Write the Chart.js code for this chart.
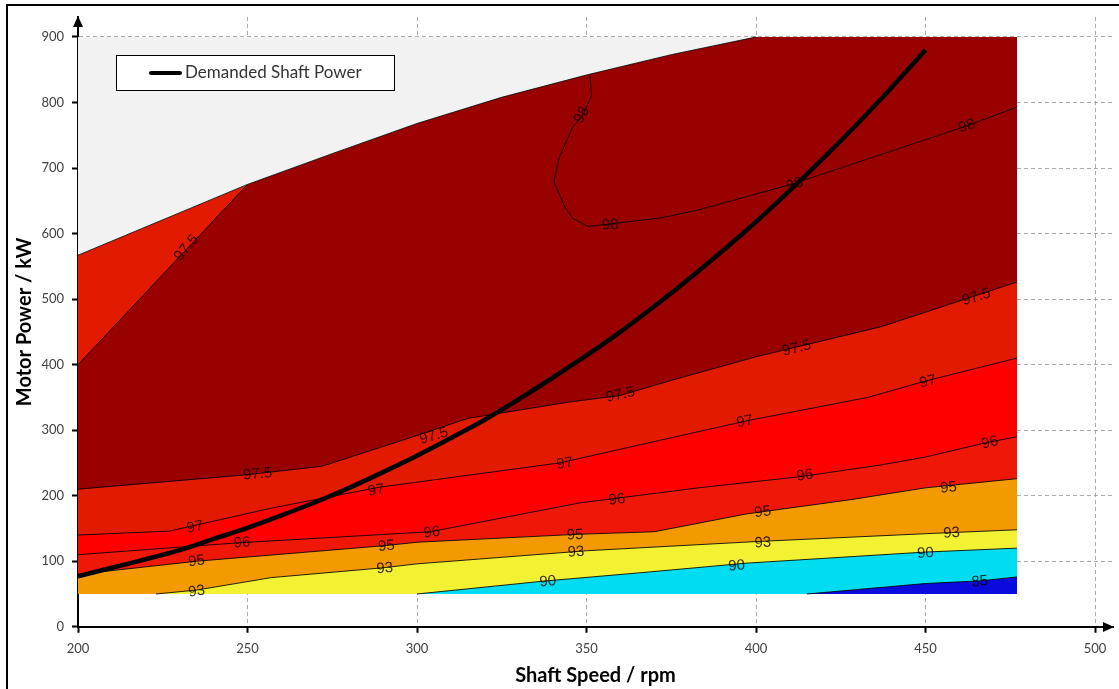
<!DOCTYPE html>
<html><head><meta charset="utf-8">
<script src="https://cdn.jsdelivr.net/npm/chart.js@4.4.1/dist/chart.umd.min.js"></script>
<style>html,body{margin:0;padding:0;background:#fff;}canvas{display:block;}</style>
</head><body>
<canvas id="c" width="1119" height="689"></canvas>
<script>
// ---- tick labels ----
const xTicks = [200, 250, 300, 350, 400, 450, 500];
const yTicks = [0, 100, 200, 300, 400, 500, 600, 700, 800, 900];

// ---- contour data: [shaft speed rpm, motor power kW] ----
const envelope   = [[200,567],[250,675],[275,722],[300,768],[325,808],[350,842],[375,873],[400,900],[477,900]];
const envelopeEdge = [[200,567],[250,675],[275,722],[300,768],[325,808],[350,842],[375,873],[400,900]];
const upper975Line = [[200,400],[250,675]];
const upper975   = [[200,400],[250,675],[275,722],[300,768],[325,808],[350,842],[375,873],[400,900],[477,900]];
const lower975   = [[200,210],[250,232],[272,245],[290,275],[300,292],[315,318],[345,343],[360,353],[375,376],[400,412],[437,458],[450,480],[477,526]];
const line97     = [[200,140],[227,146],[257,181],[289,213],[342,250],[397,314],[433,350],[450,375],[477,410]];
const line96     = [[200,110],[247,128],[304,145],[348,189],[383,212],[413,229],[437,247],[450,259],[468,281],[477,290]];
const line95     = [[200,80],[235,100],[291,124],[300,129],[347,141],[370,145],[397,172],[428,194],[450,212],[477,226]];
const line93     = [[223,50],[235,56],[257,75],[290,90],[300,96],[350,116],[400,130],[450,142],[477,148]];
const line90     = [[300,50],[338,70],[365,82],[397,97],[450,114],[477,120]];
const line85     = [[415,50],[450,66],[466,70],[477,76]];
const line98     = [[351,842],[351.5,811],[349,781],[346,763],[342,717],[340.4,679],[343.6,641],[346,623],[350.5,611],[356,614],[372,624],[383,636],[411,676],[462,764],[477,793]];

// ---- demanded shaft power curve ----
const demandSpeed = [200,210,220,230,240,250,260,270,280,290,300,310,320,330,340,350,360,370,380,390,400,410,420,430,440,450];
const demandPower = [77,90,103,117,134,151,170,190,212,236,261,288,316,347,380,414,450,489,530,573,618,666,716,768,823,880];

// ---- contour labels: [text, rpm, kW, angle deg] ----
const contourLabels = [
  ['97.5',232,578,-50],['97.5',253,233,-5],['97.5',305,291,-16],['97.5',360,354,-12],['97.5',412,425,-14],['97.5',465,503,-17],
  ['97',234.5,152,-10],['97',288,208,-10],['97',343.6,249,-9],['97',396.7,313,-11],['97',450.7,374,-14],
  ['96',248.4,128,-3],['96',304.4,144,-6],['96',359,194,-7],['96',414.4,231,-8],['96',469,281,-14],
  ['95',235,100,-6],['95',291,123,-5],['95',346.6,140,-3],['95',402,175,-8],['95',456.8,212,-6],
  ['93',235,54,-8],['93',290.5,89,-4],['93',346.9,114,-4],['93',402,128,-3],['93',457.7,143,-3],
  ['90',338.6,69,-6],['90',394.3,93,-5],['90',450,112,-4],
  ['85',466,69,-6],
  ['98',348.6,781,-62],['98',357,613,-4],['98',411.4,675,-18],['98',462.2,764,-18]
];

const C_GRAY='#f2f2f2', C_DARK='#990000', C_975='#e21a00', C_97='#fe0000', C_96='#ef1808', C_95='#f29a00', C_93='#f2f232', C_90='#00dcf2', C_85='#0a0ade';
const pts = a => a.map(p => ({x:p[0], y:p[1]}));
const CLR = 'rgba(0,0,0,0)';
const LINE = 'rgba(0,0,0,0.85)';

function band(data, color, order, border){
  return {data: pts(data), fill:{value:50}, backgroundColor: color, borderColor: border ? LINE : CLR,
          borderWidth: border ? 1 : 0, pointRadius:0, tension:0, order: order, legendSkip:true};
}
function contour(data, order){
  return {data: pts(data), fill:false, borderColor:LINE, borderWidth:1, pointRadius:0, tension:0, order:order, legendSkip:true};
}

const datasets = [
  {data: pts(envelopeEdge), fill:{value:900}, backgroundColor:C_GRAY, borderColor:LINE, borderWidth:1, pointRadius:0, order:5, legendSkip:true},
  band(envelope, C_975, 30, false),
  band(upper975, C_DARK, 29, false),
  band(lower975, C_975, 28, true),
  band(line97, C_97, 27, true),
  band(line96, C_96, 26, true),
  band(line95, C_95, 25, true),
  band(line93, C_93, 24, true),
  band(line90, C_90, 23, true),
  band(line85, C_85, 22, true),
  contour(upper975Line, 4),
  contour(line98, 4),
  {label:'Demanded Shaft Power', data: demandSpeed.map((s,i)=>({x:s, y:demandPower[i]})), fill:false,
   borderColor:'#000', borderWidth:4.5, pointRadius:0, tension:0.3, order:1}
];

const gridColor = 'rgba(150,150,150,0.8)';

const labelPlugin = {
  id:'contourLabels',
  afterDatasetsDraw(chart){
    const ctx = chart.ctx, xs = chart.scales.x, ys = chart.scales.y;
    ctx.save();
    ctx.font = '15px "Liberation Sans", Arial, sans-serif';
    ctx.fillStyle = 'rgba(15,0,0,0.82)';
    ctx.textAlign = 'center'; ctx.textBaseline = 'middle';
    contourLabels.forEach(l => {
      ctx.save();
      ctx.translate(xs.getPixelForValue(l[1]), ys.getPixelForValue(l[2]));
      ctx.rotate(l[3]*Math.PI/180);
      ctx.fillText(l[0], 0, 0);
      ctx.restore();
    });
    ctx.restore();
  }
};

const decoPlugin = {
  id:'deco',
  afterDraw(chart){
    const ctx = chart.ctx, a = chart.chartArea, xs = chart.scales.x, ys = chart.scales.y;
    ctx.save();
    // frame
    ctx.strokeStyle = '#000'; ctx.lineWidth = 2;
    ctx.strokeRect(7, 5, 2000, 2000);
    // arrows
    ctx.fillStyle = '#000';
    const x0 = xs.getPixelForValue(200), y0 = Math.round(ys.getPixelForValue(0));
    ctx.beginPath(); ctx.moveTo(x0, a.top - 1); ctx.lineTo(x0 - 5, a.top + 10); ctx.lineTo(x0 + 5, a.top + 10); ctx.closePath(); ctx.fill();
    ctx.beginPath(); ctx.moveTo(a.right + 1, y0); ctx.lineTo(a.right - 10, y0 - 5); ctx.lineTo(a.right - 10, y0 + 5); ctx.closePath(); ctx.fill();
    // legend
    const ds = chart.data.datasets.find(d => !d.legendSkip);
    const bx = 116, by = 55, bw = 278, bh = 35;
    ctx.fillStyle = '#fff'; ctx.fillRect(bx, by, bw, bh);
    ctx.strokeStyle = '#000'; ctx.lineWidth = 1; ctx.strokeRect(bx + 0.5, by + 0.5, bw, bh);
    ctx.strokeStyle = ds.borderColor; ctx.lineWidth = 4; ctx.lineCap = 'round';
    ctx.beginPath(); ctx.moveTo(151, 73); ctx.lineTo(180, 73); ctx.stroke();
    ctx.fillStyle = '#333'; ctx.font = '17px Lato, sans-serif'; ctx.textBaseline = 'middle'; ctx.textAlign = 'left';
    ctx.fillText(ds.label, 185, 73);
    ctx.restore();
  }
};

new Chart(document.getElementById('c'), {
  type:'line',
  data:{datasets: datasets},
  options:{
    responsive:false, animation:false, devicePixelRatio:1,
    layout:{padding:{top:17, right:6, left:0, bottom:0}},
    plugins:{legend:{display:false}, tooltip:{enabled:false}},
    scales:{
      x:{type:'linear', min:200, max:505.3, z:1,
         afterBuildTicks: s => { s.ticks = xTicks.map(v => ({value:v})); },
         afterFit: s => { s.height = 62.235; },
         grid:{color:gridColor, lineWidth:1, tickLength:6, tickColor:'#000', tickWidth:2},
         border:{display:true, color:'#000', width:2, dash:[4,3]},
         ticks:{color:'#404040', font:{family:'Lato', size:13}, padding:8, maxRotation:0, autoSkip:false},
         title:{display:true, text:'Shaft Speed / rpm', color:'#000', font:{family:'Lato', size:20, weight:'bold'}, padding:{top:0, bottom:1}}
      },
      y:{type:'linear', min:0, max:930.5, z:1,
         afterBuildTicks: s => { s.ticks = yTicks.map(v => ({value:v})); },
         afterFit: s => { s.width = 78; },
         grid:{color:gridColor, lineWidth:1, tickLength:6, tickColor:'#000', tickWidth:2},
         border:{display:true, color:'#000', width:2, dash:[4,3]},
         ticks:{color:'#404040', font:{family:'Lato', size:13}, padding:8, autoSkip:false},
         title:{display:true, text:'Motor Power / kW', color:'#000', font:{family:'Lato', size:20, weight:'bold'}, padding:{top:13, bottom:0}}
      }
    }
  },
  plugins:[labelPlugin, decoPlugin]
});
</script>
</body></html>
